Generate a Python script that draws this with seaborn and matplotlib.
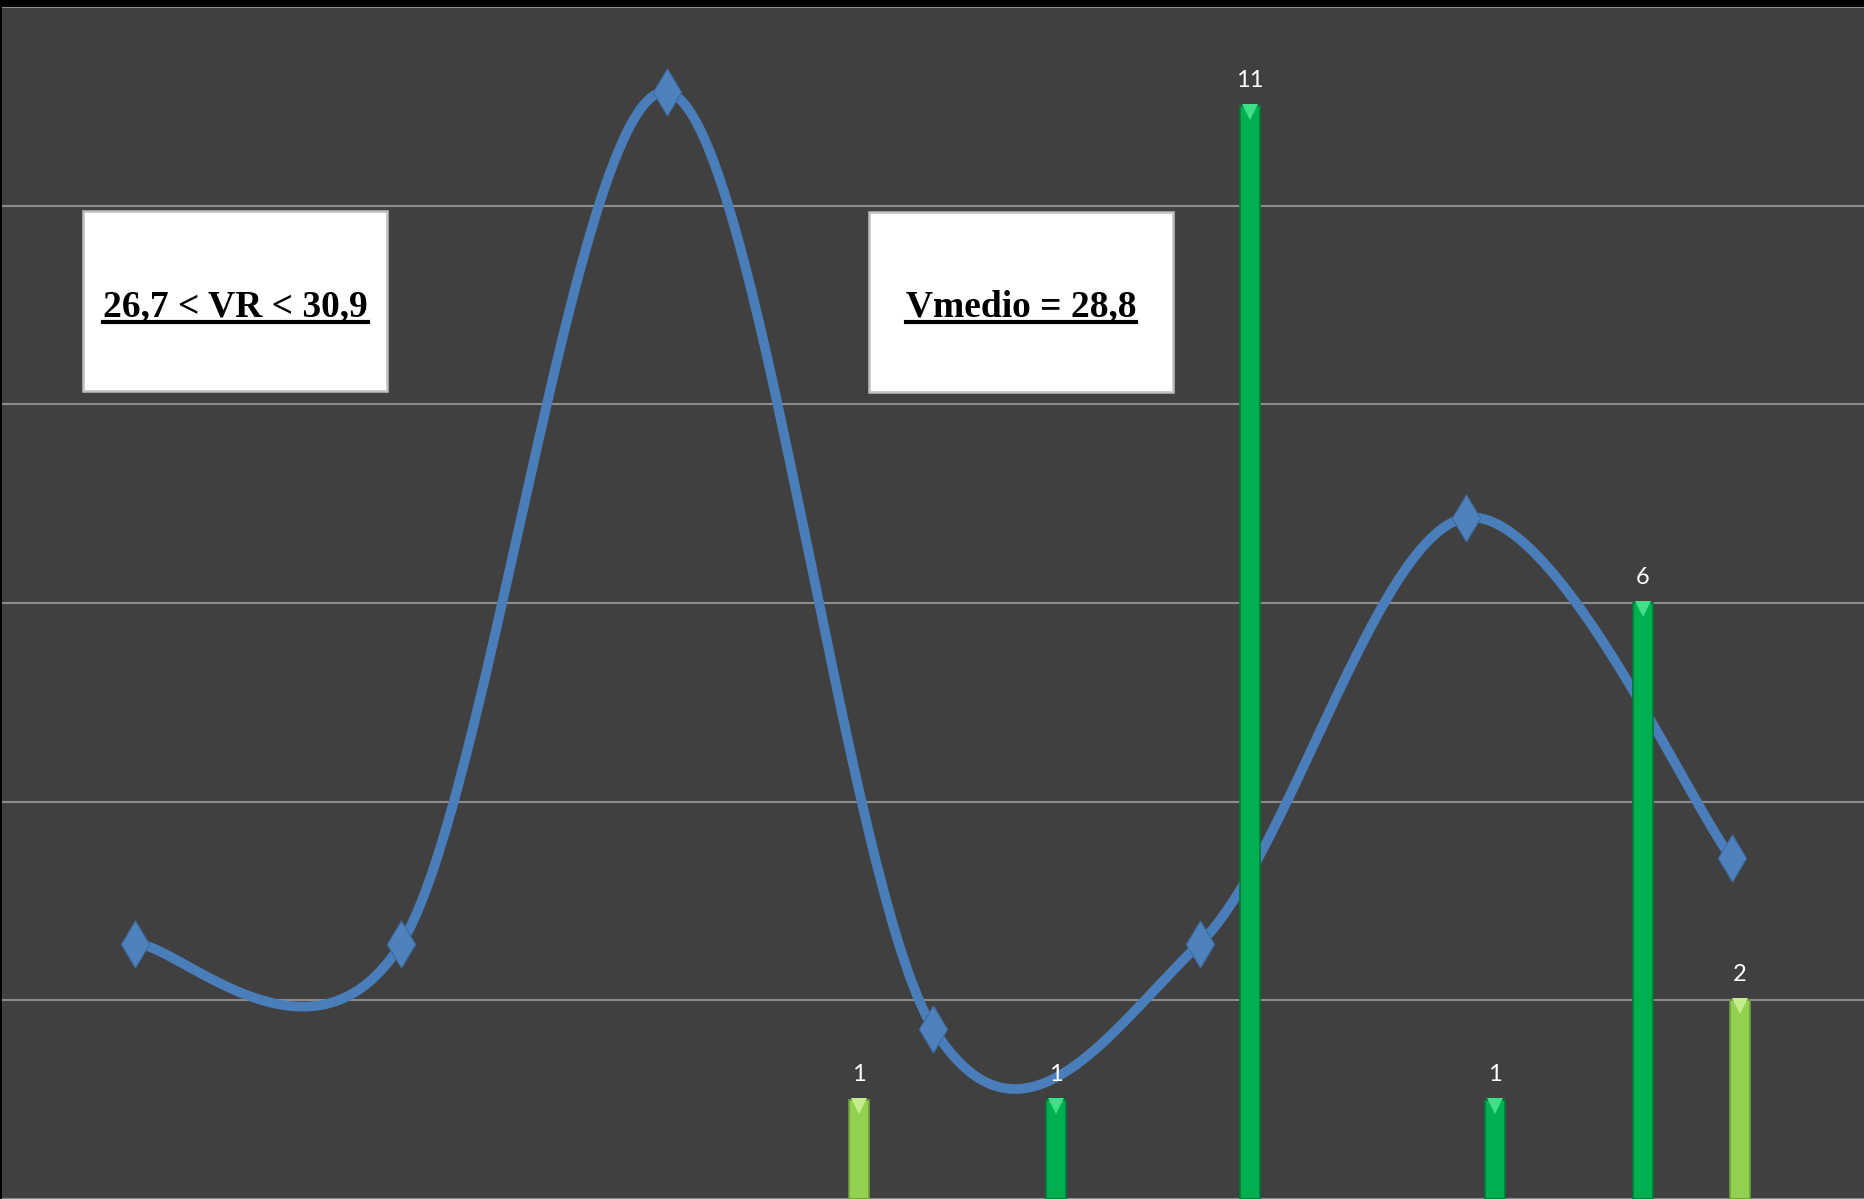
import numpy as np
import matplotlib
matplotlib.use("Agg")
import matplotlib.pyplot as plt
import matplotlib.transforms as mtransforms
from matplotlib.lines import Line2D
from matplotlib.patches import Rectangle
import seaborn as sns

# ---- data ----
line_x = [0, 1, 2, 3, 4, 5, 6]
line_values = [3, 3, 13, 2, 3, 8, 4]
bar_x = [2.72, 3.46, 4.19, 5.11, 5.665, 6.03]
bar_values = [1, 1, 11, 1, 6, 2]
bar_colors = ['#92D050', '#00B050', '#00B050', '#00B050', '#00B050', '#92D050']
bar_edges = ['#6E9E3A', '#007A38', '#007A38', '#007A38', '#007A38', '#6E9E3A']
bar_tops = ['#C4EC8C', '#3FE08A', '#3FE08A', '#3FE08A', '#3FE08A', '#C4EC8C']
box_texts = ["26,7 < VR < 30,9", "Vmedio = 28,8"]


def excel_smooth(xs, ys, n=80):
    """Bezier smoothing like a spreadsheet 'smoothed line'."""
    xs = np.asarray(xs, float)
    ys = np.asarray(ys, float)
    px = np.concatenate([[xs[0]], xs, [xs[-1]]])
    py = np.concatenate([[ys[0]], ys, [ys[-1]]])
    t = np.linspace(0, 1, n)
    ox, oy = [], []
    for i in range(len(xs) - 1):
        segs = []
        for p in (px, py):
            p0, p1, p2, p3 = p[i], p[i + 1], p[i + 2], p[i + 3]
            c1 = p1 + (p2 - p0) / 6.0
            c2 = p2 - (p3 - p1) / 6.0
            segs.append((1 - t) ** 3 * p1 + 3 * (1 - t) ** 2 * t * c1
                        + 3 * (1 - t) * t ** 2 * c2 + t ** 3 * p2)
        ox.extend(segs[0] if i == 0 else segs[0][1:])
        oy.extend(segs[1] if i == 0 else segs[1][1:])
    return np.array(ox), np.array(oy)


W, H = 1865, 1199
fig = plt.figure(figsize=(W / 100, H / 100), dpi=100, facecolor='black')

ax = fig.add_axes([2 / W, 0, (W - 2) / W, (H - 7) / H])
ax.set_facecolor('#404040')
ax.set_xlim(-0.5, 6.5)
ax.set_ylim(0, 12)
ax.set_yticks(range(0, 13, 2))
ax.grid(axis='y', color='#8C8C8C', linewidth=1.5)
ax.grid(axis='x', visible=False)
ax.set_axisbelow(True)

ax2 = ax.twinx()
ax2.set_ylim(0, 14)
ax3 = ax.twinx()
ax3.set_ylim(0, 12)

for a in (ax, ax2, ax3):
    a.tick_params(left=False, right=False, bottom=False, top=False,
                  labelleft=False, labelright=False, labelbottom=False)
    for s in a.spines.values():
        s.set_visible(False)
    a.set_xlabel('')
    a.set_ylabel('')

# smoothed line with diamond markers
cx, cy = excel_smooth(line_x, line_values)
sns.lineplot(x=cx, y=cy, ax=ax2, color='#4A7EBB', linewidth=7,
             estimator=None, sort=False, solid_capstyle='round')
sns.scatterplot(x=line_x, y=line_values, ax=ax2, marker='d', s=24 ** 2,
                color='#4F81BD', edgecolor='#3B6AA0', linewidth=0.8, zorder=5)
ax2.set_xlim(-0.5, 6.5)
ax2.set_ylim(0, 14)

# bars
bw = 0.076
ax3.bar(bar_x, bar_values, width=bw, color=bar_colors, edgecolor=bar_edges,
        linewidth=1.2, zorder=3)
down = mtransforms.offset_copy(ax3.transData, fig=fig, x=0, y=-6, units='dots')
for xv, hv, tc in zip(bar_x, bar_values, bar_tops):
    ax3.plot([xv], [hv], marker='v', markersize=11, color=tc,
             markeredgewidth=0, transform=down, zorder=4)
    ax3.annotate(str(hv), xy=(xv, hv), xytext=(0, 19), textcoords='offset pixels',
                 ha='center', va='baseline', color='white', fontsize=17,
                 family=['Lato', 'DejaVu Sans'], zorder=6)
ax3.set_xlim(-0.5, 6.5)
ax3.set_ylim(0, 12)


def fy(py):
    return 1 - py / H


boxes = [(83.5, 211.5, 387.5, 391), (869.5, 212.5, 1173, 392)]
texts = []
for (x0, y0, x1, y1), txt in zip(boxes, box_texts):
    fig.patches.append(Rectangle((x0 / W, fy(y1)), (x1 - x0) / W, (y1 - y0) / H,
                                 transform=fig.transFigure, facecolor='white',
                                 edgecolor='#BFBFBF', linewidth=1.8, zorder=10))
    t = fig.text((x0 + x1) / 2 / W, fy(316.5), txt, ha='center', va='baseline',
                 fontsize=27, fontweight='bold', color='black',
                 family=['Liberation Serif', 'DejaVu Serif'], zorder=11)
    texts.append(t)

fig.canvas.draw()
r = fig.canvas.get_renderer()
for t in texts:
    bb = t.get_window_extent(renderer=r)
    fig.lines.append(Line2D([bb.x0 / W, bb.x1 / W], [fy(321.5), fy(321.5)],
                            transform=fig.transFigure, color='black',
                            linewidth=3, zorder=12))

fig.savefig('out.png', dpi=100, facecolor='black')
